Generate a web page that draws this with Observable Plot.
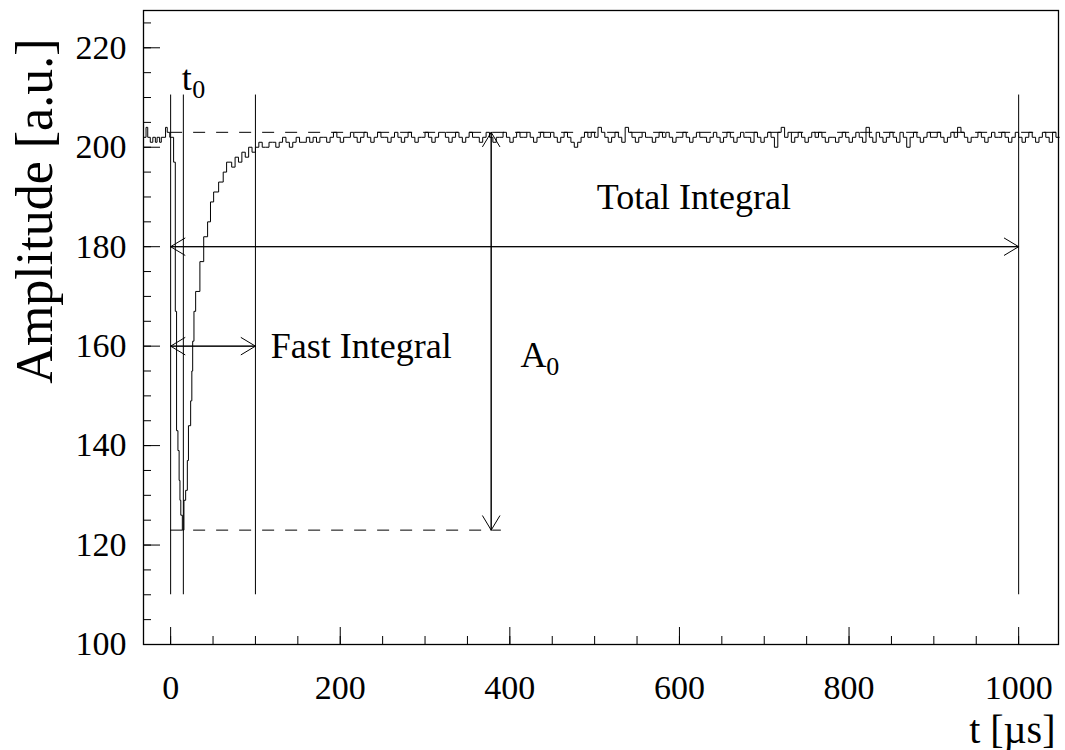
<!DOCTYPE html>
<html><head><meta charset="utf-8">
<script src="https://cdn.jsdelivr.net/npm/d3@7"></script>
<script src="https://cdn.jsdelivr.net/npm/@observablehq/plot@0.6"></script>
<style>body{margin:0;background:#fff} #chart svg{font-family:"Liberation Serif",serif}</style>
</head><body><div id="chart"></div>
<script>
// ---- data ----
// pulse region (step waveform, value holds from each time to the next)
const pulseTime = [-32, -29, -27, -24, -21, -18, -16, -13, -11, -6, -4, -1, 3.5, 5.5, 7, 8.6, 10, 11, 12, 13.8, 15.7, 17.7, 19.7, 21, 23.6, 25, 26, 27.5, 29.5, 34.5, 39, 43.6, 47, 50.7, 56.6, 62, 66, 72, 76, 80, 84, 88, 92, 96];
const pulseAmp  = [202, 204, 202, 201, 202, 201, 202, 201, 202, 204, 203, 202, 197, 167, 143, 139, 133, 129, 126, 123, 129, 131, 137, 144, 149, 155, 161, 167, 171, 177, 182, 185, 189, 191, 193, 195, 197, 196, 198, 197, 199, 198, 200, 199];
// baseline samples after the pulse, one every 4 µs starting at 100 µs
const baselineStart = 100;
const samplePeriod = 4;
const baselineAmp = [
  200,201,200,200,201,201,200,201,202,201,200,201,202,201,201,202,201,202,201,202,
  202,201,202,203,202,201,202,202,203,202,201,202,203,202,201,202,203,202,202,201,
  202,203,202,201,202,203,202,201,202,202,203,202,201,202,203,203,202,201,202,203,
  202,201,202,203,202,202,201,202,203,202,201,202,202,203,202,201,202,203,202,202,
  203,202,201,202,203,202,202,203,202,201,202,203,202,201,200,201,202,203,202,203,
  202,204,203,202,201,202,203,202,201,204,203,202,201,202,203,202,202,201,202,203,
  202,203,202,201,202,202,203,202,201,202,203,202,202,201,202,203,202,201,202,203,
  202,201,202,203,202,202,201,203,202,201,202,203,202,200,203,204,202,203,201,202,
  203,202,201,202,203,202,203,202,201,202,202,201,202,203,202,201,202,203,202,201,
  204,202,201,203,202,201,202,203,202,201,203,202,200,202,203,202,201,202,203,202,
  202,203,202,201,202,203,202,204,203,202,201,202,202,203,202,201,202,203,202,202,
  203,202,201,202,203,202,201,202,203,202,201,202,203,202,201,203,202
];
const traceEnd = 1048;

// markers
const markerTimes = [0, 15, 100, 1000];
const markerLow = 110, markerHigh = 210.5;
const baselineLevel = 203;        // upper dashed line
const minimumLevel = 123;         // lower dashed line
const minimumLineEnd = 390;
const baselineLineEnd = 1047;
// arrows
const totalIntegral = {t1: 0, t2: 1000, a: 180};
const fastIntegral = {t1: 0, t2: 100, a: 160};
const amplitudeArrow = {t: 378, a1: 203, a2: 123};
// annotations
const startText = ["Fast Integral", "A", "t"];
const startT = [118, 412.5, 13];
const startA = [160, 158.2, 213.9];
const middleText = ["Total Integral"];
const middleT = [617];
const middleA = [190];
const subText = ["0", "0"];
const subT = [443, 25.5];
const subA = [155.8, 211.5];
// axes
const xTicks = [0, 200, 400, 600, 800, 1000];
const xMinorTicks = [0,50,100,150,200,250,300,350,400,450,500,550,600,650,700,750,800,850,900,950,1000];
const yTicks = [100, 120, 140, 160, 180, 200, 220];
const yMinorTicks = [100,105,110,115,120,125,130,135,140,145,150,155,160,165,170,175,180,185,190,195,200,205,210,215,220,225];
const xTitle = "t [µs]";
const yTitle = "Amplitude [a.u.]";

// ---- build tables ----
const trace = pulseTime.map((t, i) => ({t, a: pulseAmp[i]}));
baselineAmp.forEach((a, i) => trace.push({t: baselineStart + i * samplePeriod, a}));
trace.push({t: traceEnd, a: baselineAmp[baselineAmp.length - 1]});

const startAnnos = startText.map((text, i) => ({text, t: startT[i], a: startA[i]}));
const middleAnnos = middleText.map((text, i) => ({text, t: middleT[i], a: middleA[i]}));
const subs = subText.map((text, i) => ({text, t: subT[i], a: subA[i]}));

const arrows = [
  {x1: totalIntegral.t1, x2: totalIntegral.t2, y1: totalIntegral.a, y2: totalIntegral.a},
  {x1: totalIntegral.t2, x2: totalIntegral.t1, y1: totalIntegral.a, y2: totalIntegral.a},
  {x1: fastIntegral.t1, x2: fastIntegral.t2, y1: fastIntegral.a, y2: fastIntegral.a},
  {x1: fastIntegral.t2, x2: fastIntegral.t1, y1: fastIntegral.a, y2: fastIntegral.a},
  {x1: amplitudeArrow.t, x2: amplitudeArrow.t, y1: amplitudeArrow.a1, y2: amplitudeArrow.a2},
  {x1: amplitudeArrow.t, x2: amplitudeArrow.t, y1: amplitudeArrow.a2, y2: amplitudeArrow.a1}
];

const chart = Plot.plot({
  width: 1065,
  height: 750,
  marginLeft: 143,
  marginRight: 7,
  marginTop: 10,
  marginBottom: 106,
  x: {domain: [-32, 1047]},
  y: {domain: [100, 227.5]},
  style: {fontFamily: "Liberation Serif, serif", color: "#000", background: "#fff", overflow: "visible"},
  marks: [
    Plot.axisX({ticks: xMinorTicks, tickSize: -8, text: null, label: null, strokeWidth: 1}),
    Plot.axisX({ticks: xTicks, tickSize: -17, tickPadding: 47, fontSize: 34, label: null, tickFormat: d => String(d), strokeWidth: 1}),
    Plot.axisY({ticks: yMinorTicks, tickSize: -8, text: null, label: null, strokeWidth: 1}),
    Plot.axisY({ticks: yTicks, tickSize: -17, tickPadding: 34, fontSize: 34, label: null, tickFormat: d => String(d), strokeWidth: 1}),
    Plot.ruleX(markerTimes, {x: d => d, y1: markerLow, y2: markerHigh, stroke: "#000", strokeWidth: 1}),
    Plot.ruleY([baselineLevel], {y: d => d, x1: 0, x2: baselineLineEnd, stroke: "#000", strokeWidth: 1, strokeDasharray: "12,11"}),
    Plot.ruleY([minimumLevel], {y: d => d, x1: 0, x2: minimumLineEnd, stroke: "#000", strokeWidth: 1, strokeDasharray: "12,11"}),
    Plot.line(trace, {x: "t", y: "a", curve: "step-after", stroke: "#000", strokeWidth: 1}),
    Plot.arrow(arrows, {x1: "x1", y1: "y1", x2: "x2", y2: "y2", stroke: "#000", strokeWidth: 1, headLength: 25, headAngle: 62}),
    Plot.text(startAnnos, {x: "t", y: "a", text: "text", textAnchor: "start", fontSize: 36, fill: "#000"}),
    Plot.text(middleAnnos, {x: "t", y: "a", text: "text", textAnchor: "middle", fontSize: 36, fill: "#000"}),
    Plot.text(subs, {x: "t", y: "a", text: "text", textAnchor: "start", fontSize: 26, fill: "#000"}),
    Plot.text([yTitle], {frameAnchor: "top-left", rotate: -90, textAnchor: "end", dx: -128, dy: 28, fontSize: 52, fill: "#000"}),
    Plot.text([xTitle], {frameAnchor: "bottom-right", textAnchor: "end", dx: -3, dy: 98, fontSize: 40, fill: "#000"}),
    Plot.frame({stroke: "#000", strokeWidth: 1.3})
  ]
});
document.getElementById("chart").appendChild(chart);
</script>
</body></html>
